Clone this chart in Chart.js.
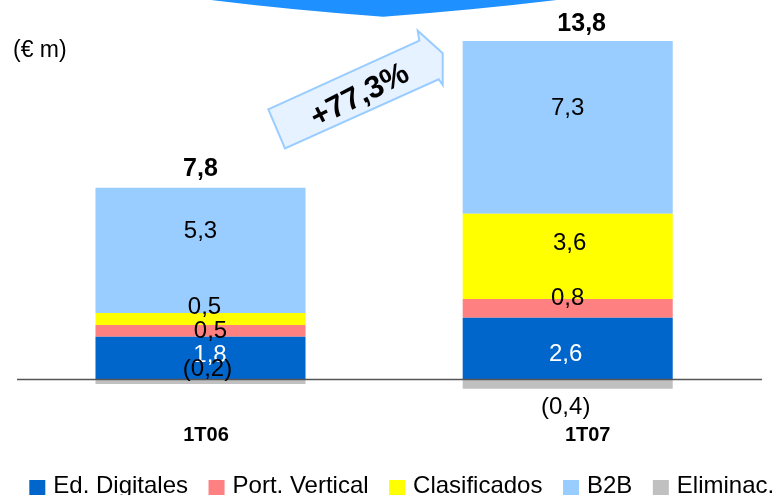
<!DOCTYPE html>
<html>
<head>
<meta charset="utf-8">
<script src="https://cdn.jsdelivr.net/npm/chart.js@4/dist/chart.umd.min.js"></script>
<style>
  html, body { margin: 0; padding: 0; background: #fff; }
  #wrap { width: 774px; height: 495px; position: relative; }
</style>
</head>
<body>
<div id="wrap"><canvas id="revenueChart"></canvas></div>
<script>
// ## DATA ##
const categories = ["1T06", "1T07"];
const seriesNames = ["Ed. Digitales", "Port. Vertical", "Clasificados", "B2B", "Eliminac."];
const edDigitales = [1.8, 2.6];
const portVertical = [0.5, 0.8];
const clasificados = [0.5, 3.6];
const b2b = [5.3, 7.3];
const eliminac = [-0.2, -0.4];
const totals = [7.8, 13.8];
const growthText = "+77,3%";
const unitText = "(€ m)";

// ## STYLE ##
const FONT = "'Liberation Sans', Arial, sans-serif";
const seriesColors = ["#0066CC", "#FF8080", "#FFFF00", "#99CCFF", "#C0C0C0"];
const labelColors = ["#FFFFFF", "#000000", "#000000", "#000000", "#000000"];

// label nudges [dx, dy] per series, per bar (the original text boxes are not centred)
const labelOffsets = [
  [[9.5, -3], [-2, 6]],
  [[10, 1], [0, -10]],
  [[4, -12], [2, -13]],
  [[0, -19], [0, -19]],
  [[7, -12], [-2, 23]],
];
const totalOffsets = [[0, -19], [14, -17]];
const categoryOffsets = [5.5, 20];

function fmt(v) {
  const s = Math.abs(v).toFixed(1).replace(".", ",");
  return v < 0 ? "(" + s + ")" : s;
}

const seriesValues = [edDigitales, portVertical, clasificados, b2b, eliminac];

const decorPlugin = {
  id: "decor",
  beforeDraw(chart) {
    const ctx = chart.ctx;
    ctx.save();
    // blue banner tip at the top
    ctx.fillStyle = "#1E90FF";
    ctx.beginPath();
    ctx.moveTo(203, -1);
    ctx.quadraticCurveTo(290, 10, 383, 16.7);
    ctx.quadraticCurveTo(475, 10, 565, -1);
    ctx.closePath();
    ctx.fill();

    // unit label
    ctx.fillStyle = "#000";
    ctx.font = "23px " + FONT;
    ctx.textBaseline = "middle";
    ctx.textAlign = "left";
    ctx.fillText(unitText, 13, 51);

    // growth arrow
    ctx.beginPath();
    ctx.moveTo(268.3, 109.3);
    ctx.lineTo(419.3, 40.7);
    ctx.lineTo(417.7, 30.7);
    ctx.lineTo(442.7, 53.3);
    ctx.lineTo(442.7, 85);
    ctx.lineTo(438.7, 79.3);
    ctx.lineTo(285, 148.3);
    ctx.closePath();
    ctx.fillStyle = "#E6F2FF";
    ctx.fill();
    ctx.strokeStyle = "#99CCFF";
    ctx.lineWidth = 2;
    ctx.stroke();

    ctx.translate(360, 96);
    ctx.rotate(-27 * Math.PI / 180);
    ctx.fillStyle = "#000";
    ctx.font = "bold 31px " + FONT;
    ctx.textAlign = "center";
    ctx.fillText(growthText, 0, 0);
    ctx.restore();
  },
  afterDatasetsDraw(chart) {
    const ctx = chart.ctx;
    const y = chart.scales.y;
    ctx.save();

    // zero line
    const y0 = Math.round(y.getPixelForValue(0)) + 0.5;
    ctx.strokeStyle = "#555555";
    ctx.lineWidth = 1.5;
    ctx.beginPath();
    ctx.moveTo(17, y0);
    ctx.lineTo(762, y0);
    ctx.stroke();

    // segment labels
    ctx.textAlign = "center";
    ctx.textBaseline = "middle";
    ctx.font = "24px " + FONT;
    chart.data.datasets.forEach((ds, i) => {
      const meta = chart.getDatasetMeta(i);
      meta.data.forEach((bar, j) => {
        const p = bar.getProps(["x", "y", "base"], true);
        const off = labelOffsets[i][j];
        ctx.fillStyle = labelColors[i];
        ctx.fillText(fmt(ds.data[j]), p.x + off[0], (p.y + p.base) / 2 + off[1]);
      });
    });

    // totals on top
    ctx.font = "bold 25px " + FONT;
    ctx.fillStyle = "#000";
    const topMeta = chart.getDatasetMeta(3);
    topMeta.data.forEach((bar, j) => {
      const p = bar.getProps(["x", "y"], true);
      ctx.fillText(fmt(totals[j]), p.x + totalOffsets[j][0], p.y + totalOffsets[j][1]);
    });

    // category labels
    ctx.font = "bold 20px " + FONT;
    const x = chart.scales.x;
    categories.forEach((c, j) => {
      ctx.fillText(c, x.getPixelForValue(j) + categoryOffsets[j], 435);
    });

    // legend
    ctx.font = "24px " + FONT;
    ctx.textAlign = "left";
    ctx.textBaseline = "alphabetic";
    let lx = 29.3;
    chart.data.datasets.forEach((ds) => {
      ctx.fillStyle = ds.backgroundColor;
      ctx.fillRect(lx, 480, 16, 15);
      ctx.fillStyle = "#000";
      ctx.fillText(ds.label, lx + 24, 492.7);
      lx += 24 + ctx.measureText(ds.label).width + 20.5;
    });
    ctx.restore();
  },
};

const ctx = document.getElementById("revenueChart").getContext("2d");
window.revenueChart = new Chart(ctx, {
  type: "bar",
  data: {
    labels: categories,
    datasets: seriesValues.map((vals, i) => ({
      label: seriesNames[i],
      data: vals,
      backgroundColor: seriesColors[i],
      borderWidth: 0,
      categoryPercentage: 1,
      barPercentage: 0.572,
    })),
  },
  options: {
    responsive: true,
    maintainAspectRatio: false,
    animation: false,
    layout: {
      padding: { left: 16.9, right: 22.7, top: 20, bottom: 75 },
    },
    plugins: {
      legend: { display: false },
      tooltip: { enabled: false },
    },
    scales: {
      x: {
        stacked: true,
        display: false,
      },
      y: {
        stacked: true,
        display: false,
        min: -1.72,
        max: 15.19,
      },
    },
  },
  plugins: [decorPlugin],
});
</script>
</body>
</html>
